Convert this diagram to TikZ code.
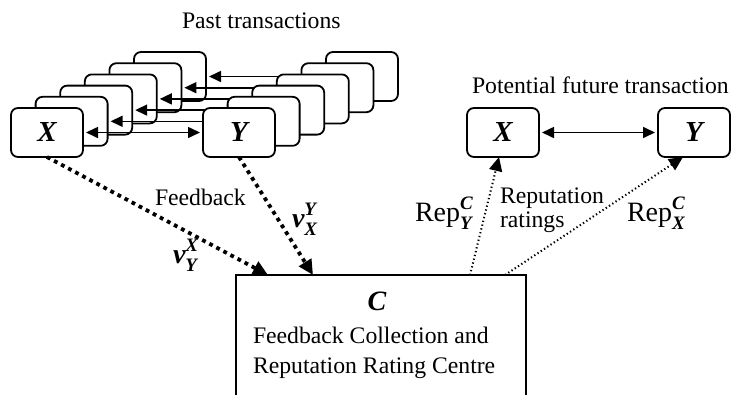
\documentclass[tikz,border=0pt]{standalone}
\usepackage{fontspec}
\setmainfont{Liberation Serif}
\usetikzlibrary{arrows.meta,calc}
\newcommand\bi[1]{{\bfseries\itshape #1}}
\newcommand\supsubbi[2]{\makebox[0pt][l]{\raisebox{0.42em}{\fontsize{19}{19}\selectfont\bfseries\itshape #1}}\raisebox{-0.3em}{\fontsize{19}{19}\selectfont\bfseries\itshape #2}}
\begin{document}
\begin{tikzpicture}[x=1pt,y=-1pt,
  every node/.style={font=\fontsize{23.7}{24}\selectfont, inner sep=0pt, outer sep=0pt},
  tbox/.style={draw, line width=1.8pt, rounded corners=7pt, fill=white,
    minimum width=72pt, minimum height=49pt, anchor=north west,
    font=\fontsize{29}{30}\selectfont\bfseries\itshape},
  big/.style={font=\fontsize{28}{30}\selectfont},
  tarrow/.style={{Triangle[length=12pt,width=11pt]}-{Triangle[length=12pt,width=11pt]},
    line width=1.6pt, shorten <=3pt, shorten >=3pt},
  fbarrow/.style={-{Triangle[length=15pt,width=14pt]}, line width=3.8pt,
    dash pattern=on 3.8pt off 4.2pt},
  rrarrow/.style={-{Triangle[length=14pt,width=13pt]}, line width=2pt,
    dash pattern=on 1.3pt off 2.6pt}]
\useasboundingbox (0,0) rectangle (731,394);
\clip (0,0) rectangle (731,394);
% past transactions stacks
\foreach \k in {5,4,...,0} {
  \node[tbox] (X\k) at ({11+24.6*\k},{108-11.2*\k}) {\ifnum\k=0 X\fi};
  \node[tbox] (Y\k) at ({203+24.6*\k},{108-11.2*\k}) {\ifnum\k=0 Y\fi};
  \draw[tarrow] (X\k) -- (Y\k);
}
\node[anchor=base west] (past) at (182,28) {Past transactions};
% potential future transaction
\node[anchor=base west] (fut) at (472,93) {Potential future transaction};
\node[tbox] (PX) at (467,108) {X};
\node[tbox] (PY) at (658,108) {Y};
\draw[tarrow] (PX) -- (PY);
% centre
\node[draw, line width=1.8pt, minimum width=290pt, minimum height=150pt, anchor=north west] (C) at (236,275) {};
\node[anchor=base, big] (Cl) at (377,310) {\bi{C}};
\node[anchor=base west] (C1) at (253,343) {Feedback Collection and};
\node[anchor=base west] (C2) at (253,373) {Reputation Rating Centre};
% feedback arrows
\draw[fbarrow] (X0.south) -- ([xshift=32pt]C.north west);
\draw[fbarrow] (Y0.south) -- ([xshift=77pt]C.north west);
\node[anchor=base west] (fb) at (155,205) {Feedback};
\node[anchor=base west, big] (vyx) at (173,263) {\bi{v}\supsubbi{X}{Y}};
\node[anchor=base west, big] (vxy) at (292,227) {\bi{v}\supsubbi{Y}{X}};
% reputation arrows
\draw[rrarrow] ([xshift=234pt]C.north west) -- ([xshift=-4pt]PX.south);
\draw[rrarrow] ([xshift=269pt]C.north west) -- ([xshift=-11pt]PY.south);
\node[anchor=base west, big] (repy) at (415,221) {Rep\supsubbi{C}{Y}};
\node[anchor=base west] (rr1) at (500,203) {Reputation};
\node[anchor=base west] (rr2) at (500,227) {ratings};
\node[anchor=base west, big] (repx) at (627,221) {Rep\supsubbi{C}{X}};
\end{tikzpicture}
\end{document}
